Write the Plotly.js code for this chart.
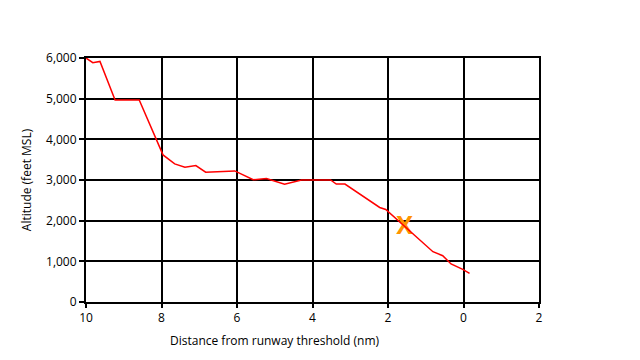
<!DOCTYPE html>
<html>
<head>
<meta charset="utf-8">
<script src="https://cdn.plot.ly/plotly-3.0.1.min.js"></script>
<style>html,body{margin:0;padding:0;background:#fff;}#chart{width:640px;height:360px;}</style>
</head>
<body>
<div id="chart"></div>
<script>
// Descent profile: distance from threshold (nm) and altitude (ft MSL)
const distance = [10, 9.82, 9.63, 9.23, 8.59, 8.06, 7.96, 7.65, 7.38, 7.09, 6.83, 6.06, 5.57, 5.22, 4.74, 4.29, 3.52, 3.37, 3.14, 2.22, 2.06, 0.81, 0.55, 0.33, 0.02, -0.16];
const altitude = [6000, 5885, 5915, 4968, 4968, 3806, 3617, 3396, 3314, 3354, 3191, 3223, 3005, 3035, 2897, 3000, 3000, 2900, 2900, 2325, 2275, 1237, 1139, 935, 804, 706];
const markerDistance = [1.56];
const markerAltitude = [1830];
const markerLabel = ['X'];
const xTickVals = [10, 8, 6, 4, 2, 0, -2];
const xTickText = ['10', '8', '6', '4', '2', '0', '2'];
const xTitle = 'Distance from runway threshold (nm)';
const yTitle = 'Altitude (feet MSL)';

const font = 'Open Sans, Noto Sans, sans-serif';
Plotly.newPlot('chart', [
  {x: markerDistance, y: markerAltitude, type: 'scatter', mode: 'text', text: markerLabel,
   textfont: {family: 'Open Sans, sans-serif', size: 25, color: '#ff9400', weight: 'bold'}, textposition: 'middle center', hoverinfo: 'skip'},
  {x: distance, y: altitude, type: 'scatter', mode: 'lines', line: {color: '#ff0000', width: 1.5}, hoverinfo: 'skip'}
], {
  width: 640, height: 360,
  margin: {l: 86, r: 101, t: 58, b: 58},
  paper_bgcolor: '#fff', plot_bgcolor: '#fff',
  showlegend: false,
  font: {family: font, size: 12, color: '#000'},
  annotations: [{
    text: xTitle, xref: 'paper', yref: 'paper', x: 0.417, y: -0.156,
    xanchor: 'center', yanchor: 'middle', showarrow: false,
    font: {family: font, size: 12, color: '#000'}
  }],
  xaxis: {
    range: [10, -2], tickvals: xTickVals, ticktext: xTickText,
    showgrid: true, gridcolor: '#000', gridwidth: 2,
    showline: true, linecolor: '#000', linewidth: 2, mirror: true,
    ticks: 'outside', ticklen: 4, tickwidth: 2, tickcolor: '#000',
    zeroline: false,
    tickfont: {family: font, size: 12, color: '#000'}
  },
  yaxis: {
    range: [0, 6000], dtick: 1000, tickformat: ',d',
    showgrid: true, gridcolor: '#000', gridwidth: 2,
    showline: true, linecolor: '#000', linewidth: 2, mirror: true,
    ticks: 'outside', ticklen: 5, tickwidth: 2, tickcolor: '#000',
    zeroline: false,
    tickfont: {family: font, size: 12, color: '#000'},
    title: {text: yTitle, font: {family: font, size: 12, color: '#000'}, standoff: 12}
  }
}, {displayModeBar: false, staticPlot: true});
</script>
</body>
</html>
